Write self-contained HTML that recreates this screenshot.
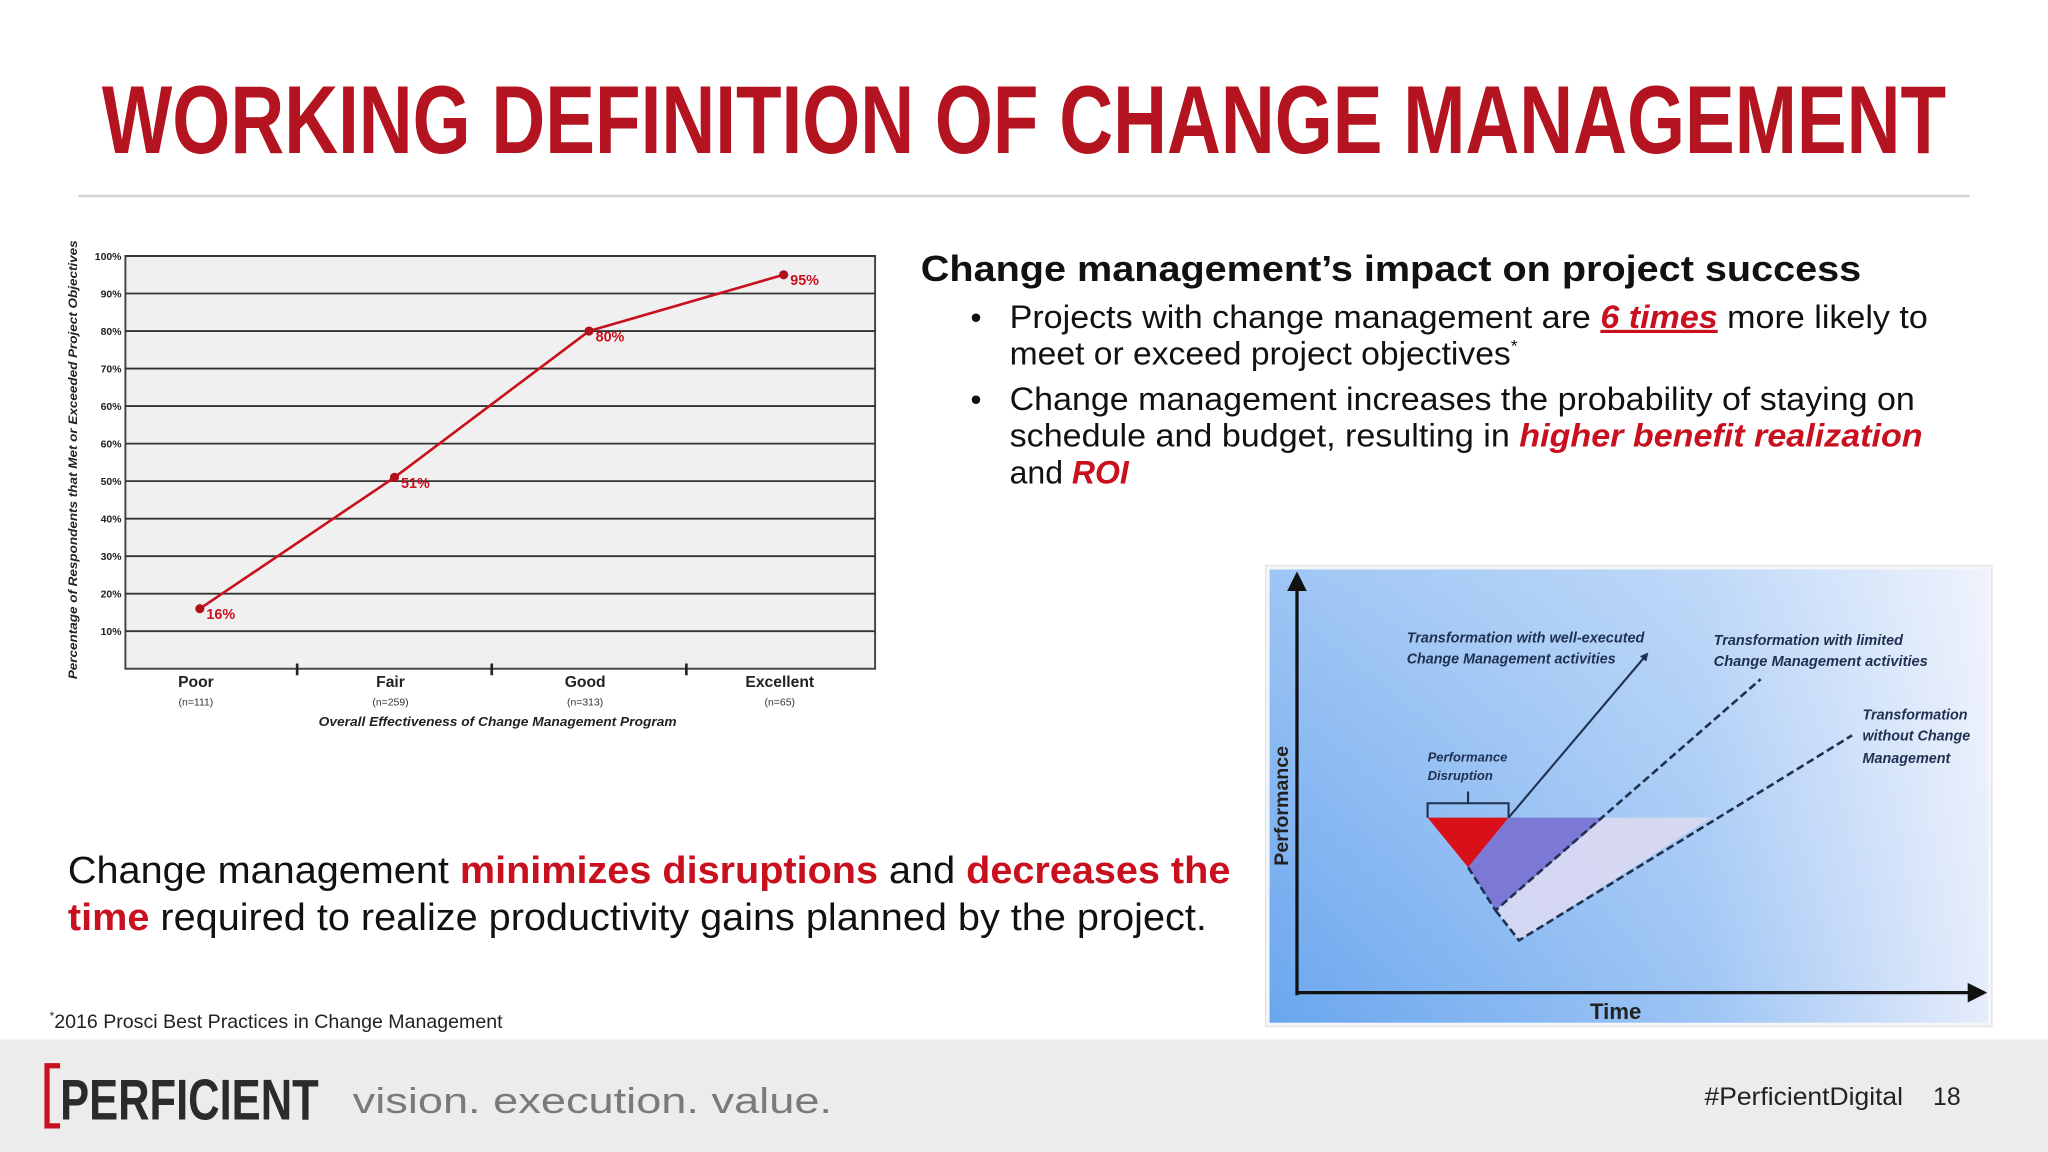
<!DOCTYPE html>
<html><head><meta charset="utf-8"><style>
html,body{margin:0;padding:0;background:#fff;}
svg{display:block;font-family:"Liberation Sans",sans-serif;}
</style></head><body>
<svg id="page" width="2048" height="1152" viewBox="0 0 1568 882" xmlns="http://www.w3.org/2000/svg">
<defs>
<linearGradient id="bgH" x1="0" y1="0" x2="1" y2="0"><stop offset="0" stop-color="#6aa6ee"/><stop offset="0.6" stop-color="#9cc4f4"/><stop offset="1" stop-color="#e6ecfb"/></linearGradient>
<linearGradient id="bgV" x1="0" y1="0" x2="0" y2="1"><stop offset="0" stop-color="#ffffff" stop-opacity="0.35"/><stop offset="1" stop-color="#ffffff" stop-opacity="0"/></linearGradient>
<linearGradient id="baseFade" x1="0" y1="0" x2="1" y2="0"><stop offset="0" stop-color="#1f3050"/><stop offset="0.7" stop-color="#1f3050"/><stop offset="1" stop-color="#1f3050" stop-opacity="0"/></linearGradient>
<marker id="arr" markerWidth="4" markerHeight="4" refX="2" refY="2" orient="auto"><path d="M0,0 L4,2 L0,4 z" fill="#1f3050"/></marker>
<marker id="arr2" markerWidth="6" markerHeight="6" refX="3" refY="3" orient="auto"><path d="M0,0 L6,3 L0,6 z" fill="#111"/></marker>
</defs>
<rect width="1568" height="882" fill="#fff"/>
<text x="78" y="117" font-size="74" font-weight="bold" fill="#b3141f" textLength="1412" lengthAdjust="spacingAndGlyphs">WORKING DEFINITION OF CHANGE MANAGEMENT</text>
<line x1="60" y1="150" x2="1508" y2="150" stroke="#d6d6d6" stroke-width="2"/>

<g id="chart"></g>

<g fill="#111">
<text x="705" y="215" font-size="28" font-weight="bold" textLength="720" lengthAdjust="spacingAndGlyphs">Change management’s impact on project success</text>
<text x="743" y="251" font-size="24">•</text>
<text x="773" y="251" font-size="24.5" textLength="703" lengthAdjust="spacingAndGlyphs">Projects with change management are <tspan fill="#c8101e" font-weight="bold" font-style="italic" text-decoration="underline">6 times</tspan> more likely to</text>
<text x="773" y="279" font-size="24.5" textLength="389" lengthAdjust="spacingAndGlyphs">meet or exceed project objectives<tspan font-size="13" dy="-10">*</tspan></text>
<text x="743" y="314" font-size="24">•</text>
<text x="773" y="314" font-size="24.5" textLength="693" lengthAdjust="spacingAndGlyphs">Change management increases the probability of staying on</text>
<text x="773" y="342" font-size="24.5" textLength="699" lengthAdjust="spacingAndGlyphs">schedule and budget, resulting in <tspan fill="#c8101e" font-weight="bold" font-style="italic">higher benefit realization</tspan></text>
<text x="773" y="370" font-size="24.5">and <tspan fill="#c8101e" font-weight="bold" font-style="italic">ROI</tspan></text>
</g>

<g fill="#111">
<text x="52" y="676" font-size="29" textLength="890" lengthAdjust="spacingAndGlyphs">Change management <tspan fill="#c8101e" font-weight="bold">minimizes disruptions</tspan> and <tspan fill="#c8101e" font-weight="bold">decreases the</tspan></text>
<text x="52" y="712" font-size="29" textLength="872" lengthAdjust="spacingAndGlyphs"><tspan fill="#c8101e" font-weight="bold">time</tspan> required to realize productivity gains planned by the project.</text>
</g>
<text x="38" y="787" font-size="15" fill="#222"><tspan font-size="9" dy="-6">*</tspan><tspan dy="6">2016 Prosci Best Practices in Change Management</tspan></text>

<g>
<rect x="969" y="433" width="556" height="353" fill="#f4f6fa" stroke="#e2e2e2"/>
<rect x="972" y="436" width="550" height="347" fill="url(#bgH)"/>
<rect x="972" y="436" width="550" height="347" fill="url(#bgV)"/>
<polygon points="1145,697 1228,626 1310,626 1163,720" fill="#dcd9f2" opacity="0.9"/>
<polygon points="1124,664 1155,626 1228,626 1145,697" fill="#7b78d6"/>
<polygon points="1093,626 1155,626 1124,664" fill="#d8101a"/>
<line x1="993" y1="626" x2="1310" y2="626" stroke="url(#baseFade)" stroke-width="1.6"/>
<path d="M1093,626 V615 H1155 V626 M1124,615 V606" fill="none" stroke="#1f3050" stroke-width="1.6"/>
<line x1="1155" y1="626" x2="1260" y2="502" stroke="#1f3050" stroke-width="1.6" marker-end="url(#arr)"/>
<polyline points="1124,664 1145,697 1348,520" fill="none" stroke="#1f3050" stroke-width="2" stroke-dasharray="6,3"/>
<polyline points="1145,697 1163,720 1418,563" fill="none" stroke="#1f3050" stroke-width="2" stroke-dasharray="6,3"/>
<line x1="993" y1="762" x2="993" y2="445" stroke="#111" stroke-width="2.5" marker-end="url(#arr2)"/>
<line x1="993" y1="760" x2="1514" y2="760" stroke="#111" stroke-width="2.5" marker-end="url(#arr2)"/>
<text transform="translate(986,617) rotate(-90)" text-anchor="middle" font-size="15" font-weight="bold" fill="#222">Performance</text>
<text x="1237" y="780" text-anchor="middle" font-size="17" font-weight="bold" fill="#222">Time</text>
<g font-size="11" font-style="italic" font-weight="bold" fill="#1f3050">
<text x="1077" y="492" textLength="182" lengthAdjust="spacingAndGlyphs">Transformation with well-executed</text>
<text x="1077" y="508" textLength="160" lengthAdjust="spacingAndGlyphs">Change Management activities</text>
<text x="1312" y="494" textLength="145" lengthAdjust="spacingAndGlyphs">Transformation with limited</text>
<text x="1312" y="510" textLength="164" lengthAdjust="spacingAndGlyphs">Change Management  activities</text>
<text x="1426" y="551">Transformation</text>
<text x="1426" y="567">without Change</text>
<text x="1426" y="584">Management</text>
<text x="1093" y="583" font-size="10">Performance</text>
<text x="1093" y="597" font-size="10">Disruption</text>
</g>
</g>

<g>
<rect x="0" y="796" width="1568" height="86" fill="#ececec"/>
<path d="M46,816 H36 V862 H46" fill="none" stroke="#c8101e" stroke-width="4"/>
<text x="46" y="857" font-size="44" font-weight="bold" fill="#2b2b2b" textLength="198" lengthAdjust="spacingAndGlyphs">PERFICIENT</text>
<text x="270" y="852" font-size="28" fill="#7a7a7a" textLength="367" lengthAdjust="spacingAndGlyphs">vision.  execution.  value.</text>
<text x="1305" y="846" font-size="19" fill="#222" textLength="152" lengthAdjust="spacingAndGlyphs">#PerficientDigital</text>
<text x="1480" y="846" font-size="19" fill="#222">18</text>
</g>
</svg>
<script>
const yTickLabels = [10,20,30,40,50,60,60,70,80,90,100];
const categories = ["Poor","Fair","Good","Excellent"];
const sampleSizes = ["(n=111)","(n=259)","(n=313)","(n=65)"];
const values = [16,51,80,95];

(function(){
  const NS="http://www.w3.org/2000/svg";
  const g=document.getElementById('chart');
  const L=96,R=670,T=196,B=512;
  const step=(B-T)/(yTickLabels.length);
  const idxY=i=>B-(i+1)*step;
  function yScale(v){
    const t=[0].concat(yTickLabels);
    for(let k=0;k<t.length-1;k++){
      if(v>=t[k]&&v<=t[k+1]&&t[k+1]>t[k]){
        const f=(v-t[k])/(t[k+1]-t[k]);
        return B-(k+f)*step;
      }
    }
    return T;
  }
  const x0=153,dx=(600-153)/(categories.length-1);
  const xScale=i=>x0+i*dx;
  function el(tag,attrs,txt){const e=document.createElementNS(NS,tag);for(const k in attrs)e.setAttribute(k,attrs[k]);if(txt!=null)e.textContent=txt;g.appendChild(e);return e;}
  const bg=el('rect',{x:L,y:T,width:R-L,height:B-T,fill:'#f0f0f0',stroke:'#444','stroke-width':1.5});
  
  
  yTickLabels.forEach((lab,i)=>{
    const y=idxY(i);
    const ln=el('line',{x1:L,y1:y,x2:R,y2:y,stroke:'#333','stroke-width':1.4});
    
    
    const t=el('text',{x:L-3,y:y+3,'text-anchor':'end','font-size':8,'font-weight':'bold',fill:'#222'},lab+'%');
    
    
  });
  for(let i=0;i<categories.length-1;i++){
    const tx=(xScale(i)+xScale(i+1))/2;
    const tk=el('line',{x1:tx,y1:B-4,x2:tx,y2:B+5,stroke:'#222','stroke-width':2});
    
    
  }
  categories.forEach((c,i)=>{
    const t=el('text',{x:xScale(i)-3,y:526,'text-anchor':'middle','font-size':12,'font-weight':'bold',fill:'#222'},c);
    
    
    const n=el('text',{x:xScale(i)-3,y:540,'text-anchor':'middle','font-size':8,fill:'#333'},sampleSizes[i]);
    
    
  });
  const pts=values.map((v,i)=>xScale(i)+','+yScale(v)).join(' ');
  const pl=el('polyline',{points:pts,fill:'none',stroke:'#c8101e','stroke-width':2});
  
  
  values.forEach((v,i)=>{
    const c=el('circle',{cx:xScale(i),cy:yScale(v),r:3.5,fill:'#b0101a'});
    
    
    const t=el('text',{x:xScale(i)+5,y:yScale(v)+8,'font-size':11,'font-weight':'bold',fill:'#c8101e'},v+'%');
    
    
  });
  const yt=el('text',{transform:'translate(59,352) rotate(-90)','text-anchor':'middle','font-size':9.5,'font-style':'italic','font-weight':'bold',fill:'#222',textLength:336,lengthAdjust:'spacingAndGlyphs'},'Percentage of Respondents that Met or Exceeded Project Objectives');
  
  
  const xt=el('text',{x:381,y:556,'text-anchor':'middle','font-size':10,'font-style':'italic','font-weight':'bold',fill:'#222',textLength:274,lengthAdjust:'spacingAndGlyphs'},'Overall Effectiveness  of Change Management Program');
  
  
})();
</script>
</body></html>
